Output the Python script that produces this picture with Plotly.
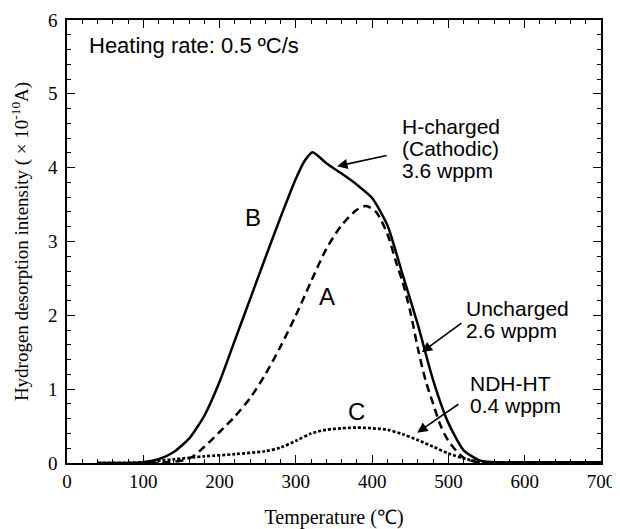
import plotly.graph_objects as go

# Curve B: H-charged (cathodic), solid
b_temp = [40, 80, 100, 120, 140, 160, 180, 200, 220, 240, 260, 280, 300, 312, 322, 340, 360, 380,
          400, 420, 440, 460, 480, 500, 520, 540, 560, 600, 700]
b_val = [0, 0, 0.01, 0.05, 0.15, 0.33, 0.64, 1.10, 1.66, 2.22, 2.78, 3.33, 3.85, 4.10, 4.21, 4.06, 3.92, 3.77,
         3.59, 3.22, 2.55, 1.87, 1.12, 0.54, 0.17, 0.04, 0.01, 0.01, 0.01]

# Curve A: uncharged, dashed
a_temp = [40, 120, 160, 180, 200, 220, 240, 260, 280, 300, 320, 340, 360, 380, 392, 405, 420, 432,
          440, 450, 460, 470, 480, 490, 500, 520, 540, 600, 700]
a_val = [0, 0, 0.06, 0.22, 0.42, 0.63, 0.88, 1.20, 1.58, 2.00, 2.46, 2.90, 3.22, 3.43, 3.48, 3.40, 3.10, 2.70,
         2.45, 2.05, 1.55, 1.12, 0.80, 0.50, 0.30, 0.07, 0.01, 0.01, 0]

# Curve C: NDH-HT, dotted
c_temp = [40, 100, 140, 180, 220, 260, 280, 300, 320, 340, 360, 380, 400, 420, 440, 460, 480, 500,
          520, 540, 560, 700]
c_val = [0, 0.01, 0.05, 0.09, 0.12, 0.16, 0.21, 0.30, 0.40, 0.45, 0.47, 0.48, 0.47, 0.45, 0.39, 0.31, 0.22, 0.13,
         0.06, 0.02, 0.01, 0.01]

x_ticks = [0, 100, 200, 300, 400, 500, 600, 700]
y_ticks = [0, 1, 2, 3, 4, 5, 6]

fig = go.Figure()
fig.add_trace(go.Scatter(x=b_temp, y=b_val, mode="lines",
                         line=dict(color="black", width=2.5, shape="spline", smoothing=0.6)))
fig.add_trace(go.Scatter(x=a_temp, y=a_val, mode="lines",
                         line=dict(color="black", width=2.5, dash="8px,5px", shape="spline", smoothing=0.8)))
fig.add_trace(go.Scatter(x=c_temp, y=c_val, mode="lines",
                         line=dict(color="black", width=2.7, dash="3px,2px", shape="spline", smoothing=0.8)))

sans = "Liberation Sans, Arial, sans-serif"
serif = "Liberation Serif, Times New Roman, serif"

def txt(x, y, s, size=21, xa="left", ya="top"):
    fig.add_annotation(x=x, y=y, text=s, showarrow=False, xanchor=xa, yanchor=ya, align="left",
                       font=dict(family=sans, size=size, color="black"))

def arrow(x, y, ax, ay):
    fig.add_annotation(x=x, y=y, ax=ax, ay=ay, axref="x", ayref="y", text="", showarrow=True,
                       arrowhead=2, arrowsize=1.3, arrowwidth=1.6, arrowcolor="black")

txt(26, 5.85, "Heating rate: 0.5 ºC/s", size=22)
txt(436, 4.74, "H-charged")
txt(436, 4.44, "(Cathodic)")
txt(436, 4.14, "3.6 wppm")
txt(521, 2.28, "Uncharged")
txt(521, 1.98, "2.6 wppm")
txt(525, 1.26, "NDH-HT")
txt(525, 0.96, "0.4 wppm")
txt(244, 3.33, "B", size=24, xa="center", ya="middle")
txt(341, 2.25, "A", size=24, xa="center", ya="middle")
txt(379, 0.70, "C", size=24, xa="center", ya="middle")

arrow(354, 4.02, 421, 4.17)
arrow(465, 1.50, 519, 1.91)
arrow(459, 0.41, 515, 0.81)

axis_common = dict(showline=True, linecolor="black", linewidth=1.5, mirror="ticks",
                   ticks="inside", ticklen=8, tickwidth=1.3, tickcolor="black",
                   showgrid=False, zeroline=False, automargin=False,
                   tickfont=dict(family=serif, size=19, color="black"))

fig.update_xaxes(range=[0, 700], tickvals=x_ticks, ticktext=[str(v) for v in x_ticks],
                 minor=dict(ticks="inside", dtick=20, ticklen=4, tickwidth=1.1, tickcolor="black"),
                 title=dict(text="Temperature (℃)", font=dict(family=serif, size=20, color="black"), standoff=19),
                 **axis_common)
fig.update_yaxes(range=[0, 6], tickvals=y_ticks, ticktext=[str(v) for v in y_ticks],
                 minor=dict(ticks="inside", dtick=0.2, ticklen=4, tickwidth=1.1, tickcolor="black"),
                 ticklabelstandoff=4,
                 title=dict(text="Hydrogen desorption intensity ( × 10<sup>-10</sup>A)",
                            font=dict(family=serif, size=19, color="black"), standoff=16),
                 **axis_common)

# page body adds an 8px offset, so the figure is sized to fit the 620x529 window
fig.update_layout(width=612, height=521, margin=dict(l=59, r=19, t=12, b=66),
                  plot_bgcolor="white", paper_bgcolor="white", showlegend=False)

fig.write_html("out.html")
